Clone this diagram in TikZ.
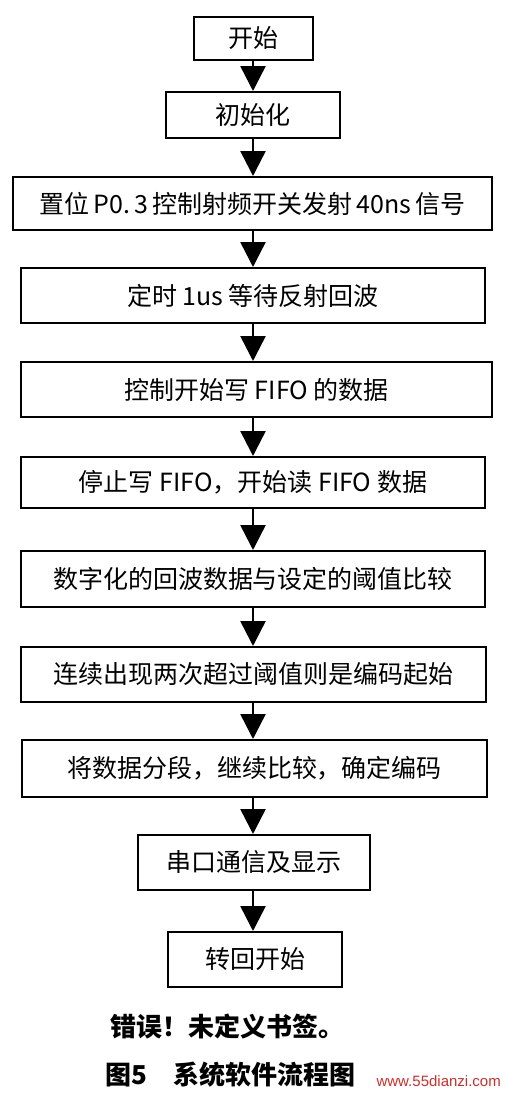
\documentclass[tikz,border=0pt]{standalone}
\usepackage{fontspec}
\newfontfamily\cjk{Noto Sans CJK SC}
\newfontfamily\wmfont{Liberation Sans}
\usetikzlibrary{arrows.meta}
\definecolor{wmred}{RGB}{205,45,45}
\begin{document}
\begin{tikzpicture}[x=1pt,y=-1pt,
  stepbox/.style={draw=black,line width=2pt,inner sep=0pt,align=center,
    font=\cjk\fontsize{25}{30}\selectfont},
  flow/.style={line width=2.5pt,-{Triangle[width=25pt,length=25pt]}},
  caption/.style={font=\cjk\bfseries\fontsize{26}{30}\selectfont,anchor=west,inner sep=0pt}]
\useasboundingbox (0,0) rectangle (504,1096);
\node[stepbox,minimum width=119pt,minimum height=43pt] (b1) at (253,38.5) {开始};
\node[stepbox,minimum width=174pt,minimum height=46pt] (b2) at (253,115) {初始化};
\node[stepbox,minimum width=479pt,minimum height=53pt] (b3) at (252.5,203.5) {置位\,P0.\,3\,控制射频开关发射\,40ns\,信号};
\node[stepbox,minimum width=464pt,minimum height=55pt] (b4) at (253,295.5) {定时 1us 等待反射回波};
\node[stepbox,minimum width=471pt,minimum height=55pt] (b5) at (256.5,389.5) {控制开始写 FIFO 的数据};
\node[stepbox,minimum width=464pt,minimum height=51pt] (b6) at (253,482.5) {停止写 FIFO，开始读 FIFO 数据};
\node[stepbox,minimum width=464pt,minimum height=56pt] (b7) at (253,579) {数字化的回波数据与设定的阈值比较};
\node[stepbox,minimum width=465pt,minimum height=55pt] (b8) at (253.5,674.5) {连续出现两次超过阈值则是编码起始};
\node[stepbox,minimum width=465pt,minimum height=57pt] (b9) at (254.5,768.5) {将数据分段，继续比较，确定编码};
\node[stepbox,minimum width=232pt,minimum height=55pt] (b10) at (254,862.5) {串口通信及显示};
\node[stepbox,minimum width=174pt,minimum height=55pt] (b11) at (255,959.5) {转回开始};
\coordinate (ax) at (253,0);
\foreach \a/\b in {b1/b2,b2/b3,b3/b4,b4/b5,b5/b6,b6/b7,b7/b8,b8/b9,b9/b10,b10/b11}{
  \draw[flow] (ax |- \a.south) -- (ax |- \b.north);
}
\node[caption] (c1) at (110,1027) {错误！未定义书签。};
\node[caption] (c2) at (105,1075) {图5　系统软件流程图};
\node[font=\wmfont\fontsize{15}{18}\selectfont,text=wmred,anchor=east,inner sep=0pt] (wm) at (501,1081) {www.55dianzi.com};
\end{tikzpicture}
\end{document}
